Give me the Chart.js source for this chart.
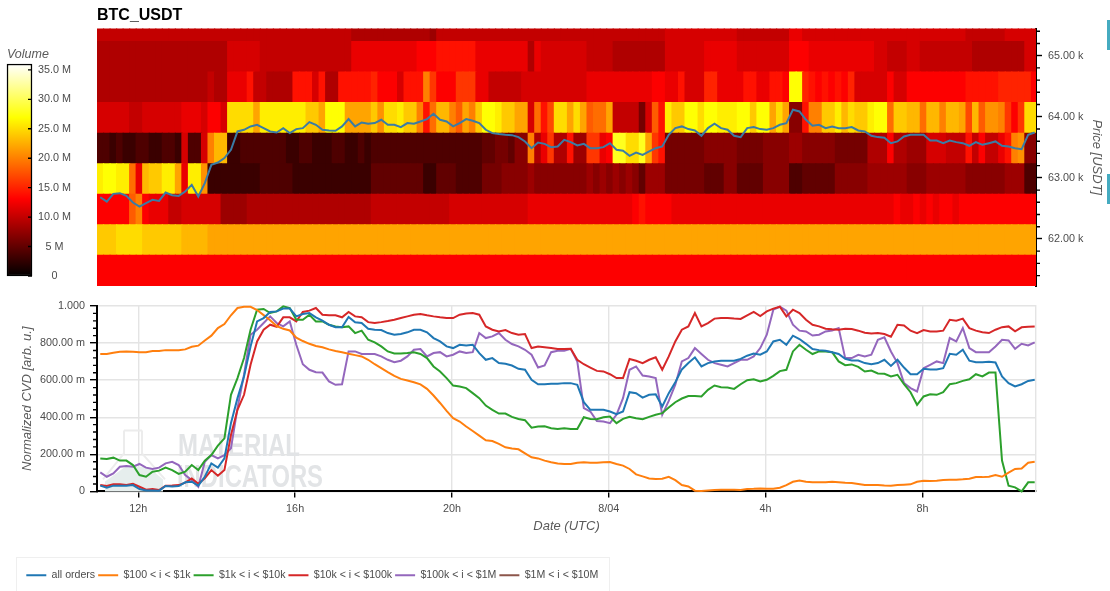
<!DOCTYPE html>
<html><head><meta charset="utf-8"><title>BTC_USDT</title>
<script src="https://cdn.jsdelivr.net/npm/chart.js@4"></script>
<style>
html,body{margin:0;padding:0;background:#fff;overflow:hidden}
canvas{position:absolute;display:block}
.deco{position:absolute}
</style></head><body>
<div class="deco" style="left:16px;top:557px;width:592px;height:40px;border:1px solid #efefef"></div>
<div class="deco" style="left:1107px;top:20px;width:3px;height:30px;background:#45abc0"></div>
<div class="deco" style="left:1107px;top:174px;width:3px;height:30px;background:#45abc0"></div>
<canvas id="bar" width="100" height="240" style="left:0;top:45px"></canvas>
<canvas id="heat" width="1110" height="295" style="left:0;top:0"></canvas>
<canvas id="cvd" width="1110" height="296" style="left:0;top:295px"></canvas>
<script>
const chartTitle = "BTC_USDT";
const xMin = -0.5, xMax = 143.2;
const xTickValues = [5.82, 29.82, 53.82, 77.82, 101.82, 125.82];
const xTickLabels = ["12h", "16h", "20h", "8/04", "4h", "8h"];
const cvdTickLabels = ["0", "200.00 m", "400.00 m", "600.00 m", "800.00 m", "1.000"];
const priceTickValues = [62000, 63000, 64000, 65000];
const priceTickLabels = ["62.00 k", "63.00 k", "64.00 k", "65.00 k"];
const volumeTickLabels = ["0", "5 M", "10.0 M", "15.0 M", "20.0 M", "25.0 M", "30.0 M", "35.0 M"];
const seriesNames = ["all orders", "$100 < i < $1k", "$1k < i < $10k", "$10k < i < $100k", "$100k < i < $1M", "$1M < i < $10M"];
const seriesColors = ["#1f77b4", "#ff7f0e", "#2ca02c", "#d62728", "#9467bd", "#8c564b"];

const priceLevelEdges = [61230, 61730, 62230, 62730, 63230, 63730, 64230, 64730, 65230, 65730];

// Volume per price band (millions), one column per 10 minutes.
const band65230 = [
10,10,10,10,10,10,10,10,10,10,10,10,10,10,10,10,10,10,10,10,10,10,10,10,
10,10,10,10,10,10,10,10,10,10,10,10,10,10,10,9,9,9,9,9,9,9,9,9,
9,9,9,8,10,10,10,10,10,10,10,10,10,10,10,10,10,10,10,10,10,10,10,10,
10,10,10,10,10,10,10,10,10,10,10,10,10,10,10,11,11,11,11,11,11,11,11,11,
11,11,10,10,10,10,10,10,10,10,12,12,11,11,11,11,11,11,11,11,11,11,11,11,
11,11,11,11,11,11,11,11,11,11,11,11,11,10,10,10,10,10,10,11,11,11,11,11];
const band64730 = [
9,9,9,9,9,9,9,9,9,9,9,9,9,9,9,9,9,9,9,9,11,11,11,11,
11,10,10,10,10,10,10,10,10,10,10,10,10,10,10,12,12,12,12,12,12,12,12,12,
12,13,13,13,14,14,14,14,14,14,12,12,12,12,12,12,12,12,9,12,11,11,11,11,
11,11,11,10,10,10,10,9,9,9,9,9,9,9,9,11,11,11,11,11,11,12,12,12,
12,12,11,11,11,11,11,11,11,11,13,13,13,12,12,12,12,12,12,12,12,12,12,11,
11,10,10,10,11,11,10,10,10,10,10,10,10,10,9,9,9,9,9,9,9,9,11,11];
const band64230 = [
9,9,9,9,9,9,9,9,9,9,9,9,9,9,9,9,9,10,9,9,12,12,12,14,
10,10,9,9,9,9,14,14,14,11,14,9,9,14,14,14,14,14,15,13,13,13,11,14,
14,14,20,16,13,13,13,16,16,16,12,12,10,10,10,10,10,11,11,11,11,11,11,11,
11,11,11,12,12,12,12,12,12,12,12,12,12,13,13,12,12,14,11,11,11,15,15,12,
12,12,12,14,14,12,12,14,14,13,27,27,15,14,13,14,13,14,13,15,11,11,11,11,
11,13,11,11,13,13,13,13,13,13,13,13,13,14,14,14,14,14,15,15,15,15,15,13];
const band63730 = [
11,11,11,11,11,10,10,11,11,11,11,11,11,12,12,12,11,13,13,11,25,25,25,25,
22,26,26,26,26,26,26,26,24,24,22,27,27,27,22,22,22,22,24,21,25,25,26,24,
24,20,14,19,23,23,20,18,22,20,24,27,27,26,24,24,22,22,11,19,14,17,25,25,
22,25,22,18,19,19,22,10,10,10,10,6,11,18,14,26,24,24,27,27,25,27,27,26,
26,26,27,27,24,27,27,22,25,22,7,7,14,20,20,24,24,26,23,25,24,24,26,27,
27,19,24,24,23,23,19,23,23,20,23,23,22,17,23,18,21,21,20,16,13,16,25,25];
const band63230 = [
4,4,3,4,3,3,4,4,3,3,4,4,3,11,4,4,11,20,23,23,3,3,4,4,
4,4,4,4,4,3,3,4,4,3,3,3,4,4,3,3,4,3,4,4,4,4,4,4,
4,4,4,4,4,4,4,4,4,4,4,5,5,6,6,5,7,7,20,9,12,16,9,9,
14,8,8,16,16,12,13,28,28,25,25,28,22,16,14,6,6,6,6,6,6,7,7,7,
7,7,6,6,6,6,7,7,7,7,8,8,7,7,7,7,7,6,6,6,6,6,9,9,
9,13,9,9,8,8,8,11,11,11,10,10,10,14,10,13,10,10,12,14,20,21,7,7];
const band62730 = [
26,27,27,26,26,19,12,23,24,24,26,26,22,12,26,26,21,3,3,3,3,3,3,3,
3,4,4,4,4,4,3,3,3,3,3,3,3,3,3,3,3,3,5,5,5,5,5,5,
5,5,3,3,5,5,5,4,4,4,4,6,6,6,7,7,7,7,8,7,7,7,7,7,
7,7,7,8,7,8,7,8,7,8,7,5,8,8,8,6,6,6,6,6,6,5,5,5,
7,7,5,5,5,5,7,7,7,7,4,4,5,5,5,5,5,7,7,7,7,7,8,8,
8,8,8,8,7,7,7,8,8,8,8,8,8,7,7,7,7,7,7,8,8,8,4,4];
const band62230 = [
13,13,13,13,13,18,20,13,12,12,12,10,10,11,11,11,11,11,11,8,8,8,8,9,
9,9,9,9,9,9,9,9,9,9,9,9,9,9,9,9,9,9,10,10,10,10,10,10,
10,10,10,10,10,10,11,11,11,11,11,11,11,11,11,11,11,11,12,12,12,12,12,12,
12,12,12,12,12,12,12,12,12,12,13,14,13,13,13,13,12,12,12,12,12,12,12,12,
12,12,12,12,12,12,12,12,12,12,12,12,12,12,12,12,12,12,12,12,12,12,12,12,
12,12,13,12,12,13,12,13,12,13,13,12,13,13,13,13,13,13,13,13,13,13,13,13];
const band61730 = [
24,24,24,25,25,25,25,24,24,24,24,24,24,23,23,23,23,22,22,22,22,22,22,22,
22,22,22,22,22,22,22,22,22,22,22,22,22,22,22,22,22,22,22,22,22,22,22,22,
22,22,22,22,22,22,22,22,22,22,22,22,22,22,22,22,22,22,22,22,22,22,22,22,
22,22,22,22,22,22,22,22,22,22,22,22,22,22,22,22,22,22,22,22,22,22,22,22,
22,22,22,22,22,22,22,22,22,22,22,22,22,22,22,22,22,22,22,22,22,22,22,22,
22,22,22,22,22,22,22,22,22,22,22,22,22,22,22,22,22,22,22,22,22,22,22,22];
const band61230 = [
13,13,13,13,13,13,13,13,13,13,13,13,13,13,13,13,13,13,13,13,13,13,13,13,
13,13,13,13,13,13,13,13,13,13,13,13,13,13,13,13,13,13,13,13,13,13,13,13,
13,13,13,13,13,13,13,13,13,13,13,13,13,13,13,13,13,13,13,13,13,13,13,13,
13,13,13,13,13,13,13,13,13,13,13,13,13,13,13,13,13,13,13,13,13,13,13,13,
13,13,13,13,13,13,13,13,13,13,13,13,13,13,13,13,13,13,13,13,13,13,13,13,
13,13,13,13,13,13,13,13,13,13,13,13,13,13,13,13,13,13,13,13,13,13,13,13];

const price = [
62683,62612,62738,62749,62705,62596,62530,62585,62640,62623,62760,62716,62705,62776,62886,62694,62913,63213,63251,63323,63459,63760,63787,63842,
63869,63814,63760,63743,63814,63732,63798,63814,63913,63869,63787,63776,63771,63842,63962,63842,63907,63885,63896,63951,63869,63869,63831,63896,
63885,63923,63962,64049,63951,63923,63842,63896,63962,63934,63896,63787,63732,63716,63705,63699,63667,63596,63486,63579,63557,63503,63514,63623,
63585,63530,63557,63486,63486,63503,63568,63459,63443,63361,63415,63377,63432,63486,63514,63705,63814,63842,63798,63776,63689,63814,63885,63814,
63787,63689,63667,63814,63831,63798,63787,63814,63869,63896,64115,64087,63951,63852,63869,63814,63842,63814,63814,63831,63776,63760,63689,63667,
63656,63568,63596,63678,63705,63705,63705,63612,63612,63568,63612,63585,63568,63525,63585,63541,63568,63596,63525,63514,63486,63470,63705,63743];

const cvdAll = [
.031,.020,.031,.031,.031,.034,.013,.005,.005,.004,.029,.027,.029,.049,.052,.031,.079,.151,.128,.178,.368,.503,.620,.782,
.917,.935,.968,.971,.986,.986,.944,.957,.962,.939,.921,.899,.886,.885,.941,.912,.908,.877,.872,.870,.854,.845,.849,.858,
.872,.872,.858,.827,.809,.782,.773,.791,.787,.791,.746,.710,.719,.692,.688,.679,.661,.656,.602,.578,.578,.580,.580,.584,
.584,.575,.481,.440,.440,.440,.431,.416,.431,.535,.530,.506,.521,.524,.458,.530,.589,.658,.692,.723,.674,.692,.701,.705,
.705,.705,.715,.732,.744,.737,.755,.809,.818,.791,.840,.822,.796,.768,.762,.759,.751,.741,.715,.706,.706,.692,.686,.692,
.710,.677,.710,.668,.632,.632,.661,.658,.658,.665,.742,.737,.764,.705,.697,.697,.699,.695,.620,.584,.566,.578,.596,.602];
const cvd100to1k = [
.741,.741,.748,.753,.755,.753,.750,.750,.757,.757,.762,.762,.762,.766,.780,.786,.814,.840,.881,.903,.950,.989,.996,.996,
.978,.951,.923,.892,.877,.868,.829,.811,.796,.784,.777,.766,.757,.751,.742,.735,.728,.710,.686,.665,.643,.623,.607,.598,
.589,.577,.553,.517,.477,.434,.395,.377,.350,.326,.301,.276,.272,.256,.238,.232,.227,.205,.184,.178,.166,.157,.150,.148,
.148,.155,.157,.155,.155,.157,.159,.148,.139,.121,.092,.081,.070,.067,.068,.079,.061,.034,.027,.004,.002,.005,.007,.009,
.009,.009,.007,.013,.014,.016,.014,.014,.020,.034,.052,.059,.052,.049,.049,.050,.052,.050,.047,.045,.040,.034,.034,.034,
.032,.031,.034,.036,.038,.052,.058,.056,.058,.061,.063,.063,.065,.068,.077,.077,.079,.088,.079,.101,.121,.124,.155,.160];
const cvd1kto10k = [
.178,.175,.182,.166,.166,.142,.088,.079,.106,.112,.128,.115,.094,.106,.142,.115,.166,.196,.247,.286,.521,.611,.719,.872,
.980,.984,.962,.971,.998,.989,.926,.926,.953,.917,.917,.899,.890,.885,.890,.854,.867,.818,.804,.782,.755,.744,.744,.746,
.751,.741,.719,.674,.647,.611,.571,.566,.557,.530,.503,.463,.440,.420,.420,.402,.391,.384,.344,.350,.351,.341,.337,.341,
.337,.337,.400,.391,.389,.400,.404,.368,.391,.402,.395,.389,.402,.413,.422,.452,.481,.501,.514,.515,.512,.548,.571,.562,
.560,.553,.578,.600,.605,.593,.602,.623,.649,.656,.755,.791,.764,.741,.755,.755,.751,.701,.681,.685,.672,.647,.652,.636,
.634,.620,.629,.578,.535,.467,.512,.524,.521,.535,.578,.584,.596,.605,.632,.620,.641,.641,.166,.031,.022,0,.049,.050];
const cvd10kto100k = [
.034,.029,.038,.038,.034,.041,.025,.009,.013,.007,.031,.032,.034,.047,.070,.041,.070,.115,.085,.115,.304,.440,.521,.683,
.809,.872,.899,.888,.939,.939,.917,.968,.975,.989,.953,.950,.950,.939,.968,.944,.939,.913,.908,.913,.919,.926,.935,.944,
.953,.957,.950,.944,.939,.935,.935,.953,.960,.962,.953,.890,.872,.863,.870,.854,.845,.849,.773,.782,.778,.773,.768,.768,
.769,.710,.686,.668,.650,.647,.632,.611,.611,.714,.705,.692,.710,.723,.656,.728,.809,.872,.890,.962,.890,.908,.932,.935,
.935,.932,.930,.950,.968,.946,.971,.986,.996,.944,.980,.962,.926,.899,.890,.877,.874,.872,.877,.876,.867,.856,.852,.854,
.849,.834,.899,.895,.867,.854,.870,.863,.863,.867,.926,.921,.932,.881,.867,.859,.854,.872,.886,.890,.863,.885,.888,.890];
const cvd100kto1M = [
.103,.079,.097,.133,.137,.133,.148,.128,.121,.128,.151,.160,.142,.088,.061,.025,.160,.196,.178,.196,.232,.449,.629,.845,
.872,.908,.944,.908,.890,.917,.791,.686,.656,.643,.641,.593,.575,.578,.755,.755,.741,.741,.741,.728,.710,.697,.705,.728,
.764,.768,.728,.746,.751,.728,.737,.755,.746,.751,.854,.827,.836,.854,.818,.795,.782,.764,.737,.668,.679,.751,.759,.759,
.769,.701,.449,.431,.380,.377,.368,.413,.503,.656,.674,.625,.620,.611,.413,.488,.575,.701,.719,.773,.741,.710,.692,.683,
.674,.692,.710,.710,.728,.773,.845,.980,.996,.975,.899,.867,.863,.841,.845,.863,.868,.881,.719,.719,.737,.728,.737,.818,
.831,.755,.692,.584,.557,.539,.665,.683,.701,.692,.827,.809,.881,.773,.751,.750,.751,.782,.818,.814,.769,.796,.787,.804];
const cvd1Mto10M = [];

Chart.defaults.font.family = '"Liberation Sans", Arial, sans-serif';
Chart.defaults.animation = false;
Chart.defaults.responsive = false;
Chart.defaults.maintainAspectRatio = false;
Chart.defaults.plugins.tooltip.enabled = false;
const tickFont = {size: 10.8};
const textGrey = "#4c4c4c";
const titleGrey = "#5a5a5a";

function hot(v) {
  if (v <= 13.1) return `rgb(${Math.round(255 * v / 13.1)},0,0)`;
  if (v <= 26.9) return `rgb(255,${Math.round(255 * (v - 13.1) / 13.8)},0)`;
  return `rgb(255,255,${Math.round(255 * (v - 26.9) / 9.1)})`;
}
const minorTicks = {
  id: "minorTicks",
  afterDraw(chart, args, o) {
    const s = chart.scales[o.axis], ctx = chart.ctx;
    ctx.save();
    ctx.strokeStyle = "#000";
    ctx.lineWidth = 1.4;
    ctx.beginPath();
    for (const v of o.values) {
      const y = s.getPixelForValue(v);
      ctx.moveTo(o.edge(chart), y);
      ctx.lineTo(o.edge(chart) + o.length, y);
    }
    ctx.stroke();
    ctx.restore();
  }
};
const fixWidth = w => s => { s.width = w; s.paddingTop = 0; s.paddingBottom = 0; };
const xAxisHidden = {
  type: "linear", display: false, min: xMin, max: xMax, offset: false,
  grid: {display: false, offset: false}
};

// --- heat map with price line
const bands = [band61230, band61730, band62230, band62730, band63230, band63730, band64230, band64730, band65230];
const priceMinor = [];
for (let p = 61400; p <= 65400; p += 200) if (p % 1000) priceMinor.push(p);
new Chart(document.getElementById("heat"), {
  type: "bar",
  data: {
    datasets: [
      {type: "line", order: 0, data: price.map((y, x) => ({x, y})), borderColor: "#3a7ca5",
       borderWidth: 2, pointRadius: 0, tension: 0, yAxisID: "y"},
      ...bands.map((b, r) => ({
        order: 1, data: b.map((v, x) => ({x, y: [priceLevelEdges[r], priceLevelEdges[r + 1]]})),
        backgroundColor: b.map(hot), borderWidth: 0, barPercentage: 1, categoryPercentage: 1, grouped: false,
        inflateAmount: 0.6, yAxisID: "y"
      }))
    ]
  },
  options: {
    layout: {autoPadding: false, padding: {left: 97, right: 0, top: 0, bottom: 9}},
    plugins: {
      legend: {display: false},
      title: {display: true, text: chartTitle, align: "start", fullSize: false, color: "#000",
              font: {size: 16, weight: "bold"}, padding: {top: 6.4, bottom: 3}},
      minorTicks: {axis: "y", values: priceMinor, length: 4, edge: c => c.chartArea.right}
    },
    scales: {
      x: xAxisHidden,
      y: {
        position: "right", min: 61230, max: 65443, bounds: "data",
        afterBuildTicks: s => { s.ticks = priceTickValues.map(value => ({value})); },
        afterFit: fixWidth(74),
        border: {color: "#000", width: 2},
        grid: {drawOnChartArea: false, tickColor: "#000", tickLength: 6, tickWidth: 1.4},
        ticks: {autoSkip: false, padding: 6, color: textGrey, font: tickFont, callback: (v, i) => priceTickLabels[i]},
        title: {display: true, text: "Price [USDT]", color: titleGrey, font: {size: 13, style: "italic"}, padding: {top: 5.2, bottom: 0}}
      }
    }
  },
  plugins: [minorTicks]
});

// --- colour bar
new Chart(document.getElementById("bar"), {
  type: "bar",
  data: {labels: ["Volume"], datasets: [{
    data: [[0, 36]], barPercentage: 1, categoryPercentage: 1, borderColor: "#000", borderWidth: 1.5, borderSkipped: false, clip: false,
    backgroundColor: c => {
      const s = c.chart.scales.y;
      if (!s || !c.chart.chartArea) return "#000";
      const g = c.chart.ctx.createLinearGradient(0, s.getPixelForValue(0), 0, s.getPixelForValue(36));
      g.addColorStop(0, "#000"); g.addColorStop(13.1 / 36, "#f00"); g.addColorStop(26.9 / 36, "#ff0"); g.addColorStop(1, "#fff");
      return g;
    }
  }]},
  options: {
    layout: {autoPadding: false, padding: {left: 7, right: 0, top: 0, bottom: 9}},
    plugins: {
      legend: {display: false},
      title: {display: true, text: "Volume", align: "start", color: titleGrey,
              font: {size: 12.5, style: "italic", weight: "normal"}, padding: {top: 2.5, bottom: 1.5}},
      minorTicks: {axis: "y", values: [0, 5, 10, 15, 20, 25, 30, 35], length: -4, edge: c => c.chartArea.right}
    },
    scales: {
      x: {display: false, offset: true, grid: {display: false}},
      y: {
        position: "right", min: 0, max: 36, bounds: "data",
        afterFit: fixWidth(68),
        border: {display: false}, grid: {display: false, drawTicks: false},
        ticks: {stepSize: 5, includeBounds: false, autoSkip: false, padding: 6, crossAlign: "center", color: textGrey, font: tickFont,
                callback: v => volumeTickLabels[v / 5] || ""}
      }
    }
  },
  plugins: [minorTicks]
});

// --- CVD lines
const watermark = {
  id: "watermark",
  beforeDatasetsDraw(chart) {
    const ctx = chart.ctx, L = chart.chartArea.left, B = chart.chartArea.bottom;
    ctx.save();
    // flask
    ctx.beginPath();
    ctx.moveTo(L + 30, B - 26); ctx.lineTo(L + 8, B - 10); ctx.lineTo(L + 8, B);
    ctx.lineTo(L + 66, B); ctx.lineTo(L + 66, B - 12); ctx.lineTo(L + 52, B - 24); ctx.closePath();
    ctx.fillStyle = "#e6eeed"; ctx.fill();
    ctx.beginPath();
    ctx.moveTo(L + 27, B - 61); ctx.lineTo(L + 27, B - 38); ctx.lineTo(L + 6, B - 12);
    ctx.moveTo(L + 45, B - 61); ctx.lineTo(L + 45, B - 38); ctx.lineTo(L + 68, B - 12);
    ctx.moveTo(L + 27, B - 61); ctx.lineTo(L + 45, B - 61);
    ctx.strokeStyle = "#ececec"; ctx.lineWidth = 2; ctx.stroke();
    // text
    ctx.fillStyle = "#e2e4e6";
    ctx.font = 'bold 31px "Liberation Sans"';
    ctx.textBaseline = "alphabetic";
    ctx.fillText("MATERIAL", L + 81, B - 35, 122);
    ctx.fillText("INDICATORS", L + 80, B - 4, 146);
    ctx.restore();
  }
};
const cvdMinor = [];
for (let k = 1; k < 25; k++) if (k % 5) cvdMinor.push(k * 0.04);
const cvdSeries = [cvdAll, cvd100to1k, cvd1kto10k, cvd10kto100k, cvd100kto1M, cvd1Mto10M];
new Chart(document.getElementById("cvd"), {
  type: "line",
  data: {datasets: cvdSeries.map((s, i) => ({
    label: seriesNames[i], data: s.map((y, x) => ({x, y})), borderColor: seriesColors[i], backgroundColor: seriesColors[i],
    borderWidth: 2, pointRadius: 0, tension: 0, clip: 4
  }))},
  options: {
    layout: {autoPadding: false, padding: {left: 23.3, right: 74, top: 11, bottom: 0.5}},
    plugins: {
      legend: {
        position: "bottom", align: "start",
        labels: {usePointStyle: true, pointStyle: "line", pointStyleWidth: 20, boxWidth: 20, padding: 3, color: textGrey, font: {size: 10.6}}
      },
      minorTicks: {axis: "y", values: cvdMinor, length: -4, edge: c => c.chartArea.left}
    },
    scales: {
      x: {
        type: "linear", min: xMin, max: xMax, offset: false,
        afterBuildTicks: s => { s.ticks = xTickValues.map(value => ({value})); },
        afterFit: s => { s.height = 75.5; },
        border: {color: "#000", width: 2},
        grid: {color: "#e4e4e4", lineWidth: 1.4, tickColor: "#000", tickLength: 6},
        ticks: {autoSkip: false, maxRotation: 0, padding: 5, color: textGrey, font: tickFont, callback: (v, i) => xTickLabels[i]},
        title: {display: true, text: "Date (UTC)", color: titleGrey, font: {size: 13, style: "italic"}, padding: {top: 0, bottom: 33}}
      },
      y: {
        min: 0, max: 1, bounds: "data",
        afterFit: fixWidth(73.7),
        border: {color: "#000", width: 2},
        grid: {color: "#e4e4e4", lineWidth: 1.4, tickColor: "#000", tickLength: 7},
        ticks: {stepSize: 0.2, autoSkip: false, padding: 5, color: textGrey, font: tickFont,
                callback: v => cvdTickLabels[Math.round(v / 0.2)]},
        title: {display: true, text: "Normalized CVD [arb. u.]", color: titleGrey, font: {size: 13, style: "italic", lineHeight: 0.7}, padding: {top: 0, bottom: 2}}
      },
      yRight: {
        axis: "y", position: "right", min: 0, max: 1,
        afterFit: fixWidth(0),
        border: {color: "#e4e4e4", width: 1.4},
        grid: {drawOnChartArea: false, drawTicks: false},
        ticks: {display: false}
      }
    }
  },
  plugins: [watermark, minorTicks]
});
</script>
</body></html>
